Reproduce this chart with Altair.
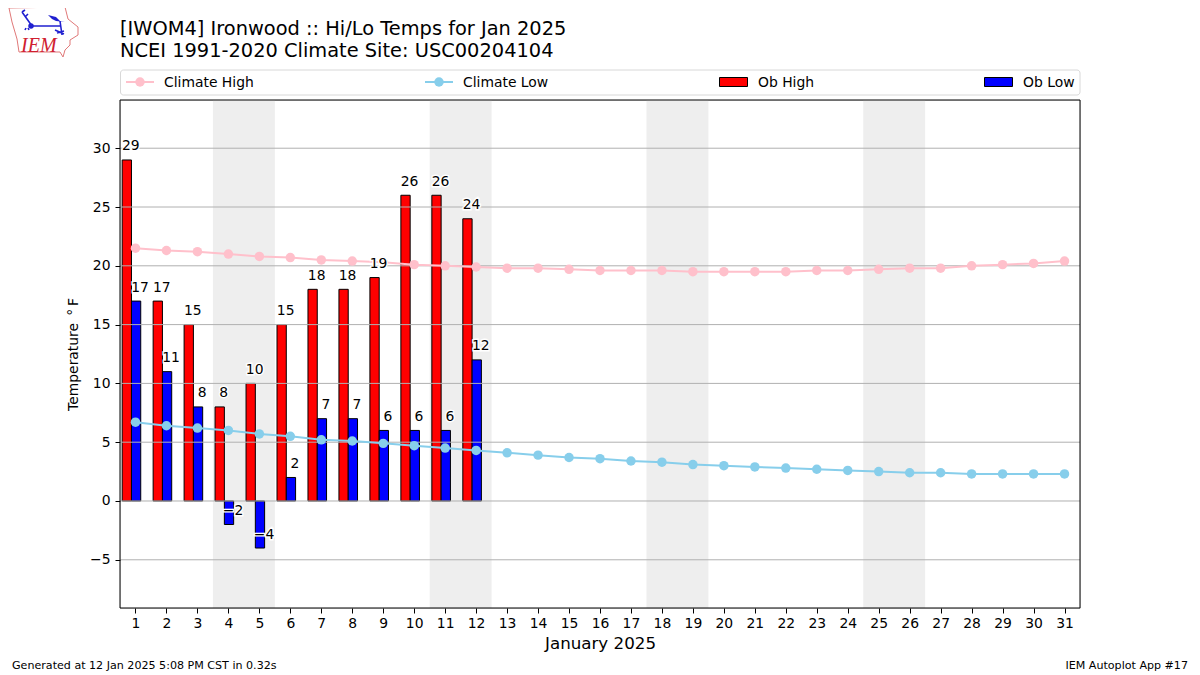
import altair as alt
import pandas as pd

days = list(range(1, 32))
ob_high = [29, 17, 15, 8, 10, 15, 18, 18, 19, 26, 26, 24]
ob_low = [17, 11, 8, -2, -4, 2, 7, 7, 6, 6, 6, 12]
clim_high = [21.5, 21.3, 21.2, 21.0, 20.8, 20.7, 20.5, 20.4, 20.3, 20.1, 20.0, 19.9, 19.8, 19.8, 19.7, 19.6,
             19.6, 19.6, 19.5, 19.5, 19.5, 19.5, 19.6, 19.6, 19.7, 19.8, 19.8, 20.0, 20.1, 20.2, 20.4]
clim_low = [6.7, 6.4, 6.2, 6.0, 5.7, 5.5, 5.2, 5.1, 4.9, 4.7, 4.5, 4.3, 4.1, 3.9, 3.7, 3.6,
            3.4, 3.3, 3.1, 3.0, 2.9, 2.8, 2.7, 2.6, 2.5, 2.4, 2.4, 2.3, 2.3, 2.3, 2.3]
weekend_start = [3.5, 10.5, 17.5, 24.5]
weekend_end = [5.5, 12.5, 19.5, 26.5]
y_ticks = [-5, 0, 5, 10, 15, 20, 25, 30]
title_lines = ["[IWOM4] Ironwood :: Hi/Lo Temps for Jan 2025", "NCEI 1991-2020 Climate Site: USC00204104"]

FONT = "DejaVu Sans"
TS = 13.9
W, H = 960, 508
OX, OY = 120, 100  # plot origin on the page, before the 8px margin is removed
xs = alt.Scale(domain=[0.5, 31.5], nice=False, zero=False)
ys = alt.Scale(domain=[-9.1, 34.1], nice=False, zero=False)
xa = alt.Axis(values=days, title="January 2025", titleFont=FONT, titleFontSize=16.7, titleFontWeight="normal",
              titleColor="black", titlePadding=6, labelFont=FONT, labelFontSize=TS, labelColor="black",
              labelFlush=False, format="d", grid=False, domain=False, tickColor="black", tickSize=5,
              labelPadding=3, labelOverlap=False)
ya = alt.Axis(values=y_ticks, title="Temperature \u2009\u00b0\u2009F", titleFont=FONT, titleFontSize=TS,
              titleFontWeight="normal", titleColor="black", titlePadding=9, labelFont=FONT, labelFontSize=TS,
              labelColor="black", labelExpr="replace(datum.label, '-', '−')", grid=False, domain=False,
              tickColor="black", tickSize=5, labelPadding=5, labelOverlap=False)

obs = pd.DataFrame({"day": days[:len(ob_high)], "high": ob_high, "low": ob_low})
obs["hi0"] = obs.day - 0.43
obs["hi1"] = obs.day - 0.13
obs["lo1"] = obs.day + 0.17
obs["hlab"] = obs.day - 0.15
obs["llab"] = obs.day + 0.15
clim = pd.DataFrame({"day": days, "high": clim_high, "low": clim_low})
wk = pd.DataFrame({"a": weekend_start, "b": weekend_end})
grid = pd.DataFrame({"v": y_ticks})


def X(f):
    return alt.X(f, scale=xs, axis=xa)


def Y(f):
    return alt.Y(f, scale=ys, axis=ya)


def px(x):
    return alt.value(x - OX)


def py(y):
    return alt.value(y - OY)


def blank():
    return alt.Chart(alt.Data(values=[{"k": 1}]))


span = alt.Chart(wk).mark_rect(color="#eeeeee").encode(x=X("a:Q"), x2="b:Q")

hi_bar = alt.Chart(obs).mark_bar(color="#ff0000", stroke="black", strokeWidth=1).encode(
    x=X("hi0:Q"), x2="hi1:Q", y=Y("high:Q"), y2=alt.datum(0))
lo_bar = alt.Chart(obs).mark_bar(color="#0000ff", stroke="black", strokeWidth=1).encode(
    x=X("hi1:Q"), x2="lo1:Q", y=Y("low:Q"), y2=alt.datum(0))

grid_rule = alt.Chart(grid).mark_rule(color="#b0b0b0", strokeWidth=1).encode(y=Y("v:Q"))


def line_layer(col, color):
    line = alt.Chart(clim).mark_line(color=color, strokeWidth=2).encode(x=X("day:Q"), y=Y(f"{col}:Q"))
    pts = alt.Chart(clim).mark_point(color=color, filled=True, opacity=1, size=90).encode(
        x=X("day:Q"), y=Y(f"{col}:Q"))
    return line + pts


def labels(xcol, col):
    base = alt.Chart(obs)
    enc = dict(x=X(f"{xcol}:Q"), y=Y(f"{col}:Q"), text=alt.Text(f"{col}:Q", format="d"))
    halo = base.mark_text(font=FONT, fontSize=TS, dy=-13.5, color="white", stroke="white", strokeWidth=2.8,
                          baseline="middle").encode(**enc)
    txt = base.mark_text(font=FONT, fontSize=TS, dy=-13.5, color="black", baseline="middle").encode(**enc)
    return halo + txt


def page_text(x, y, s, size, align="left", **kw):
    return blank().mark_text(text=s, font=FONT, fontSize=size, align=align, baseline="middle", color="black", **kw).encode(
        x=px(x), y=py(y))


frame = blank().mark_rect(fill=None, stroke="black", strokeWidth=1).encode(
    x=px(OX), x2=px(OX + W), y=py(OY), y2=py(OY + H))

legend_box = blank().mark_rect(fill="white", stroke="#d8d8d8", strokeWidth=1, cornerRadius=3).encode(
    x=px(120.5), x2=px(1080), y=py(70), y2=py(95))


def legend_line(x0, color, label, tx):
    ln = blank().mark_rule(color=color, strokeWidth=2).encode(x=px(x0), x2=px(x0 + 28), y=py(82))
    pt = blank().mark_point(color=color, filled=True, opacity=1, size=90).encode(x=px(x0 + 14), y=py(82))
    return ln + pt + page_text(tx, 82.8, label, TS)


def legend_patch(x0, color, label, tx):
    r = blank().mark_rect(color=color, stroke="black", strokeWidth=1).encode(
        x=px(x0), x2=px(x0 + 28), y=py(77.5), y2=py(86.5))
    return r + page_text(tx, 82.8, label, TS)


# logo: Iowa outline, station-plot glyph and IEM lettering, paths in pixels about the logo centre (44, 32)
iowa = ("M-35,-24 L21,-25 L24,-13 L34,-5 L34,3 L26,8 L26,13 L21,18 L19,25 L16,20 L-25,20 L-27,7 L-32,-10 Z")
glyph = ("M-12,-6 L16,-6 M-12,-6 L-22,-20 M-22,-20 L-19,-22 M-19,-15 L-16,-18 "
         "M16,-11 L18,3 M11,-2 L20,2 M13,1 L20,-1 M-18,-4 L-19,-2 M-16,-4 L-15,-2")
wedge = "M4,-17 L12,-15 L16,-11 L21,-10 L12,-11 L8,-13 Z"
LC = "#2020d0"
logo = (
    blank().mark_point(shape=iowa, size=4, filled=False, opacity=1, stroke="#e07878", strokeWidth=1).encode(x=px(44), y=py(32))
    + blank().mark_point(shape=glyph, size=4, filled=False, opacity=1, stroke=LC, strokeWidth=1.6).encode(x=px(44), y=py(32))
    + blank().mark_point(shape=wedge, size=4, filled=True, opacity=1, color=LC).encode(x=px(44), y=py(32))
    + blank().mark_point(shape="circle", size=30, filled=True, opacity=1, color=LC).encode(x=px(31), y=py(26))
    + blank().mark_text(text="IEM", font="Liberation Serif", fontStyle="italic", fontSize=20, color="#d02030",
                        align="left", baseline="middle").encode(x=px(21), y=py(45.5))
)

chart = alt.layer(
    span, hi_bar, lo_bar, grid_rule,
    line_layer("high", "#ffc0cb"), line_layer("low", "#87ceeb"),
    labels("hlab", "high"), labels("llab", "low"),
    frame, legend_box,
    legend_line(126, "#ffc0cb", "Climate High", 164),
    legend_line(425, "#87ceeb", "Climate Low", 463),
    legend_patch(719.5, "#ff0000", "Ob High", 758),
    legend_patch(984.5, "#0000ff", "Ob Low", 1023),
    page_text(120, 29, title_lines[0], 19.4),
    page_text(120, 51, title_lines[1], 19.4),
    page_text(12, 666, "Generated at 12 Jan 2025 5:08 PM CST in 0.32s", 11.1),
    page_text(1188, 666, "IEM Autoplot App #17", 11.1, align="right"),
    logo,
).resolve_scale(x="shared", y="shared").properties(
    width=W, height=H,
    padding={"left": OX - 8, "top": OY - 8, "right": 1192 - OX - W, "bottom": 675 - OY - H - 2},
    autosize=alt.AutoSizeParams(type="none"),
).configure_view(stroke=None).configure(background="white")

chart.save("out.html", embed_options={"renderer": "svg", "actions": False})
